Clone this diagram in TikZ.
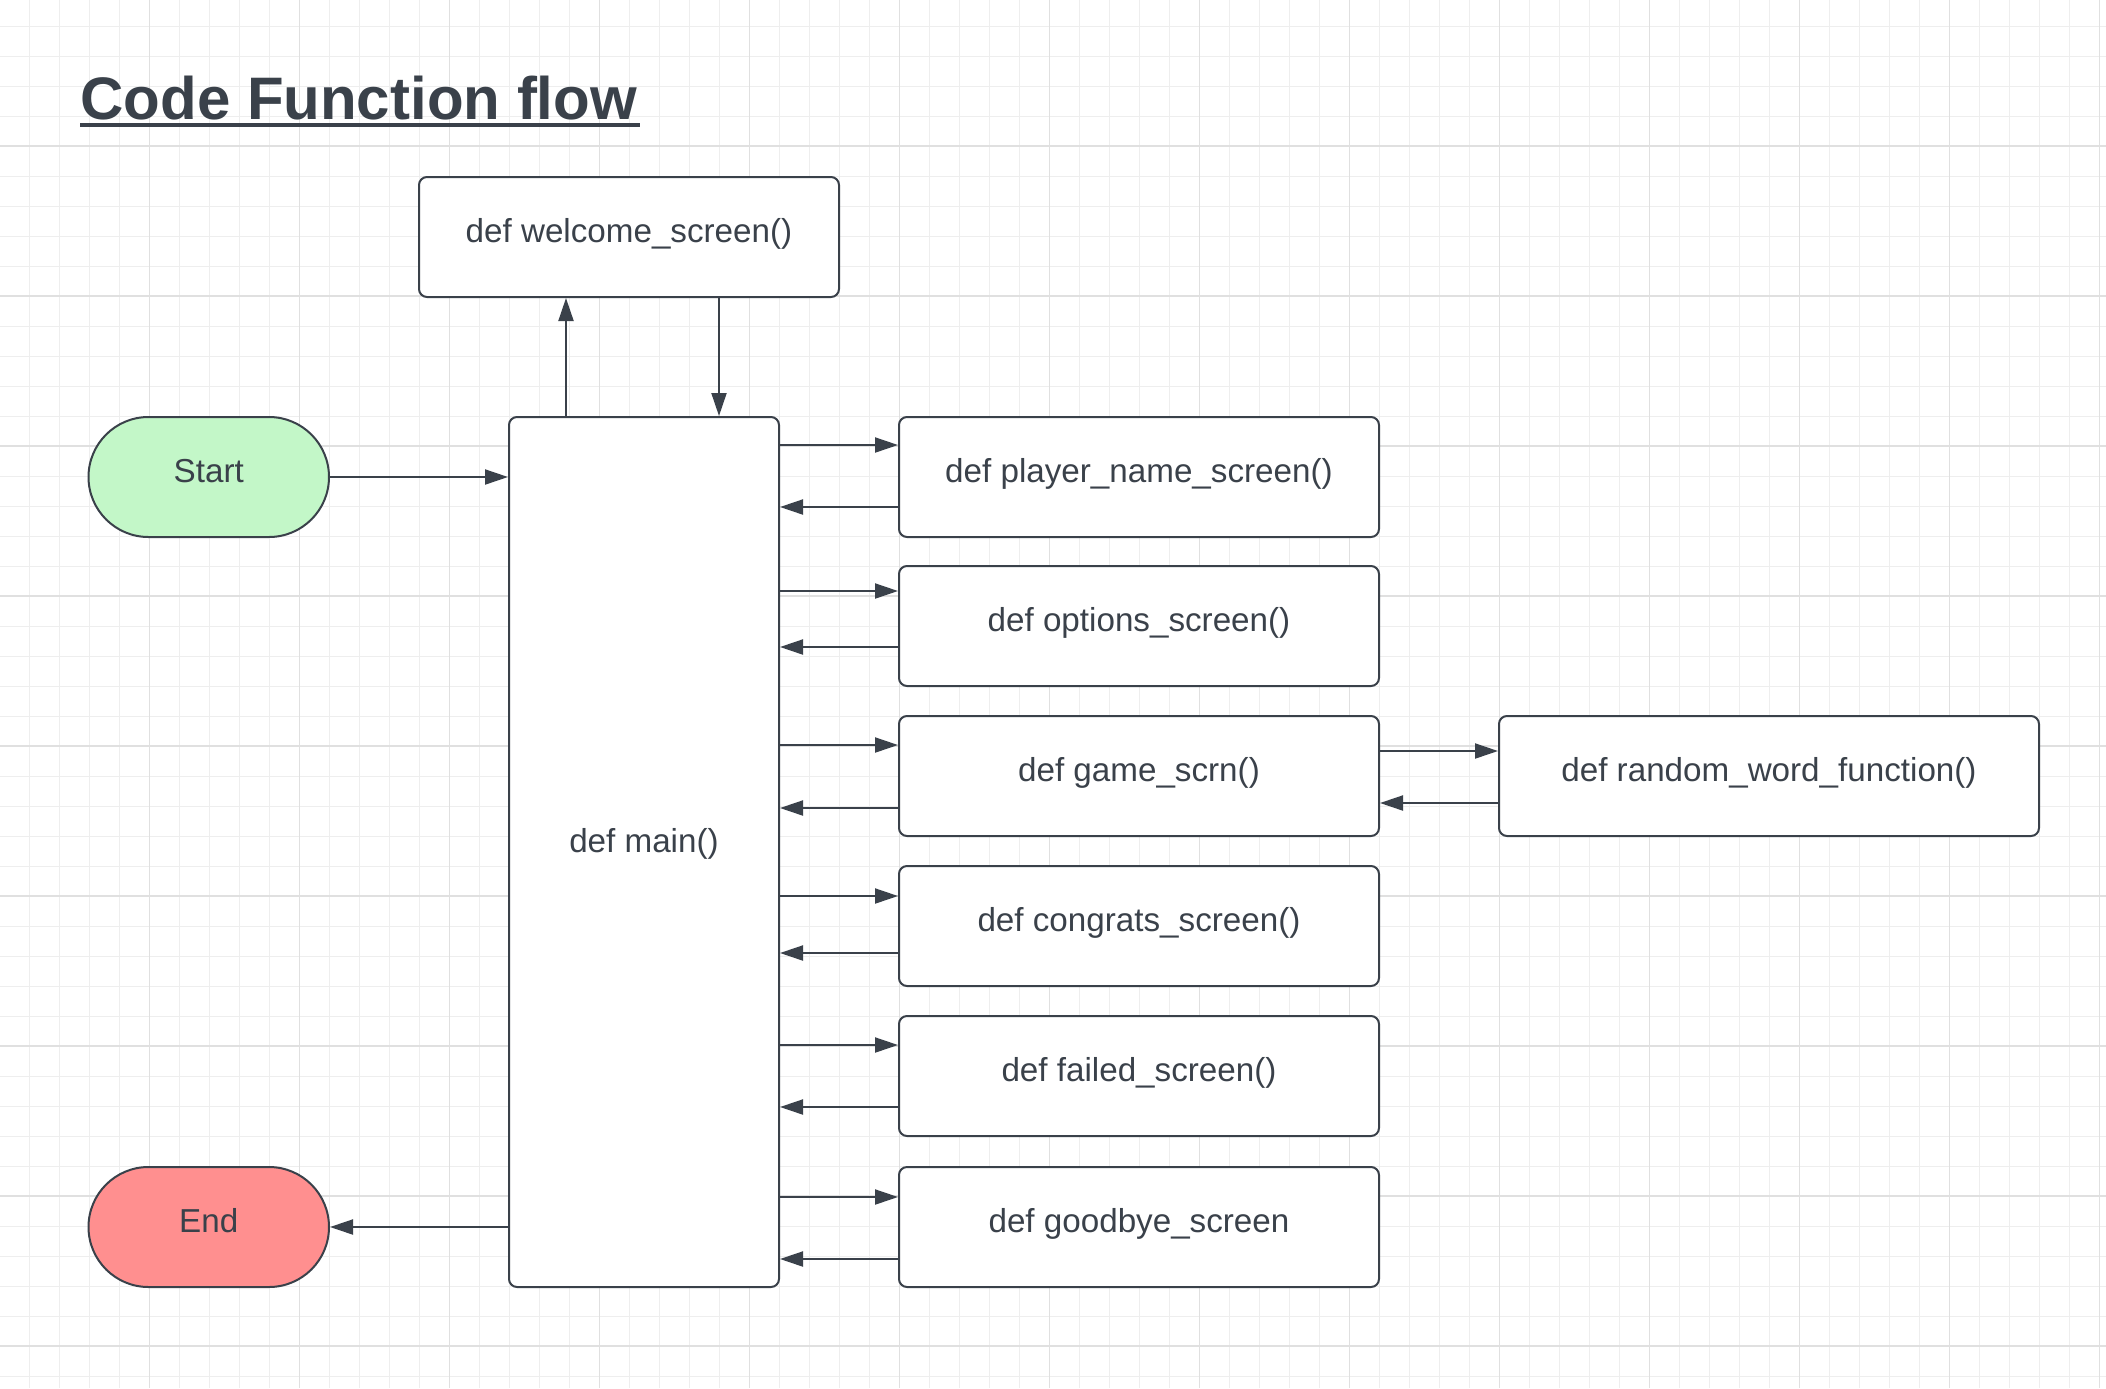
\documentclass[tikz,border=0pt]{standalone}
\usepackage{fontspec}
\setmainfont{Liberation Sans}
\usetikzlibrary{arrows.meta}
\definecolor{ink}{HTML}{3A414A}
\definecolor{startgreen}{HTML}{C3F7C8}
\definecolor{endred}{HTML}{FF8F8F}
\definecolor{gridminor}{HTML}{EEEEEE}
\definecolor{gridmajor}{HTML}{E0E0E0}

\begin{document}
\begin{tikzpicture}[x=0.5pt,y=-0.5pt,
    fn/.style={draw=ink,line width=1pt,fill=white,rounded corners=4pt,
      text=ink,font=\fontsize{16.6pt}{19pt}\selectfont,inner sep=0pt,
      minimum height=60pt,text height=0.7em,text depth=0.18em},
    term/.style={fn,rounded corners=30pt,minimum width=120.25pt},
    arr/.style={draw=ink,line width=1pt,-{Triangle[length=11.5pt,width=7.5pt]}}]
  \useasboundingbox (0,0) rectangle (2106,1388);
  \fill[white] (0,0) rectangle (2106,1388);
  % background grid, minor then major lines
  \foreach \i in {1,...,70}
    \draw[gridminor,line width=0.5pt] (30*\i-0.5,0) -- (30*\i-0.5,1388);
  \foreach \j in {0,...,45}
    \draw[gridminor,line width=0.5pt] (0,30*\j+26) -- (2106,30*\j+26);
  \foreach \i in {1,...,14}
    \draw[gridmajor,line width=0.8pt] (150*\i-0.5,0) -- (150*\i-0.5,1388);
  \foreach \j in {0,...,8}
    \draw[gridmajor,line width=0.8pt] (0,150*\j+146) -- (2106,150*\j+146);

  \node[anchor=base west,inner sep=0pt,text=ink,
    font=\fontsize{30pt}{36pt}\selectfont\bfseries] (title) at (80,119) {Code Function flow};
  \draw[ink,line width=2.4pt] ([yshift=-3pt]title.base west) -- ([yshift=-3pt,xshift=1.5pt]title.base east);

  \node[fn,minimum width=210pt] (welcome) at (629,237) {def welcome\_screen()};
  \node[fn,minimum width=135pt,minimum height=435pt,text depth=0.7em] (main) at (644,852) {def main()};
  \node[term,fill=startgreen] (start) at (208.75,477) {Start};
  \node[term,fill=endred] (end) at (208.75,1227) {End};

  \node[fn,minimum width=240pt] (player) at (1139,477) {def player\_name\_screen()};
  \node[fn,minimum width=240pt] (options) at (1139,626) {def options\_screen()};
  \node[fn,minimum width=240pt] (game) at (1139,776) {def game\_scrn()};
  \node[fn,minimum width=240pt] (congrats) at (1139,926) {def congrats\_screen()};
  \node[fn,minimum width=240pt] (failed) at (1139,1076) {def failed\_screen()};
  \node[fn,minimum width=240pt] (goodbye) at (1139,1227) {def goodbye\_screen};
  \node[fn,minimum width=270pt] (random) at (1769,776) {def random\_word\_function()};

  \draw[arr] (start.east) -- (start.east -| main.west);
  \draw[arr] (main.west |- end.east) -- (end.east);
  \draw[arr] ([xshift=29pt]main.north west) -- ([xshift=29pt]main.north west |- welcome.south);
  \draw[arr] ([xshift=105.5pt]main.north west |- welcome.south) -- ([xshift=105.5pt]main.north west);

  % calls out of main and the returns
  \foreach \fname/\go/\back in {player/14.5/15.5,options/13/20,game/15/14.5,
      congrats/15.5/17,failed/15/15,goodbye/15.5/14.5}{
    \draw[arr] ([yshift=-\go pt]\fname.north west -| main.east) -- ([yshift=-\go pt]\fname.north west);
    \draw[arr] ([yshift=\back pt]\fname.south west) -- ([yshift=\back pt]\fname.south west -| main.east);
  }
  \draw[arr] ([yshift=-18pt]game.north east) -- ([yshift=-18pt]game.north east -| random.west);
  \draw[arr] ([yshift=17pt]random.south west) -- ([yshift=17pt]random.south west -| game.east);
\end{tikzpicture}
\end{document}
